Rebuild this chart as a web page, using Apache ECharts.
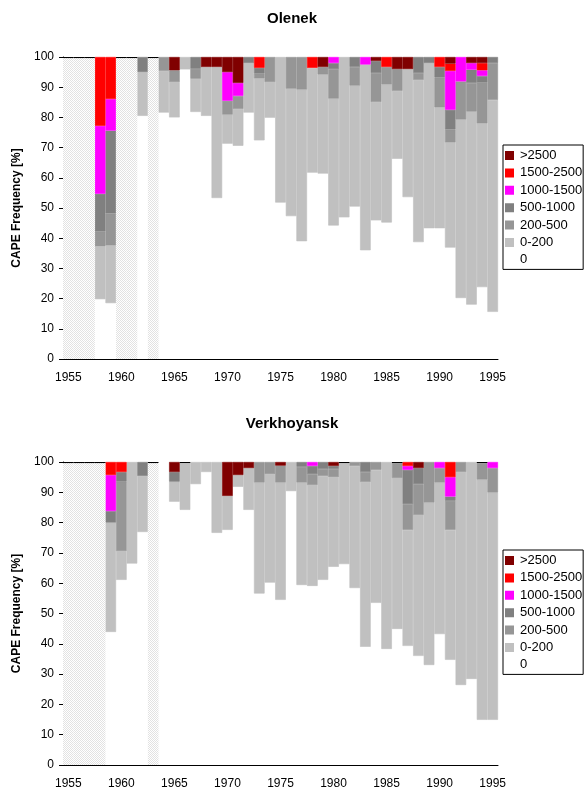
<!DOCTYPE html>
<html>
<head>
<meta charset="utf-8">
<script src="https://cdn.jsdelivr.net/npm/echarts@6/dist/echarts.min.js"></script>
<style>
html,body{margin:0;padding:0;background:#fff;}
#chart{width:584px;height:790px;}
</style>
</head>
<body>
<div id="chart"></div>
<script>
// ---------- DATA ----------
const years = ['1955','1956','1957','1958','1959','1960','1961','1962','1963','1964',
  '1965','1966','1967','1968','1969','1970','1971','1972','1973','1974',
  '1975','1976','1977','1978','1979','1980','1981','1982','1983','1984',
  '1985','1986','1987','1988','1989','1990','1991','1992','1993','1994','1995'];
const yTicks = [0,10,20,30,40,50,60,70,80,90,100];
const classNames = ['0','0-200','200-500','500-1000','1000-1500','1500-2500','>2500'];
const n = null;

// Olenek (percent of soundings per CAPE class)
const olenek_0     = [n,n,n,19.8,18.5,n,n,80.5,n,81.6,80,95.9,81.8,80.5,53.3,71.3,70.6,81.6,72.4,79.9,51.8,47.3,39,61.7,61.4,44.2,46.9,50.5,36,45.9,45.2,66.3,53.6,38.7,43.3,43.3,36.9,20.2,18,23.8,15.6];
const olenek_200   = [n,n,n,17.5,19.1,n,n,14.5,n,13.8,11.7,4.1,11,16.2,43.4,9.6,12.2,16.4,20.5,11.8,48.2,42.2,50.2,34.7,32.8,42,53.1,40,61.5,39.2,45.7,22.5,42.4,53.7,54.7,40,34.8,59.1,63.9,54.2,70.2];
const olenek_500   = [n,n,n,4.9,10.6,n,n,0,n,4.6,3.9,0,3.3,0,0,4.6,4.3,0,1.6,8.3,0,10.5,10.8,0,2.5,9.8,0,6.2,0,9.6,5.8,7.2,0,2.3,0,9.9,4.3,12.6,9.5,13.5,12.2];
const olenek_1000  = [n,n,n,12.5,27.4,n,n,5,n,0,0,0,3.9,0,0,0,0,2,1.9,0,0,0,0,0,0,2,0,3.3,0,4,0,0,0,5.3,2,3.5,6.5,0,4.4,2.2,2];
const olenek_1500  = [n,n,n,22.5,10.5,n,n,0,n,0,0,0,0,0,0,9.5,4.3,0,0,0,0,0,0,0,0,2,0,0,2.5,0,0,0,0,0,0,0,12.9,8.1,2.2,1.9,0];
const olenek_2500  = [n,n,n,22.8,13.9,n,n,0,n,0,0,0,0,0,0,0,0,0,3.6,0,0,0,0,3.6,0,0,0,0,0,0,3.3,0,0,0,0,3.3,2.4,0,0,2.4,0];
const olenek_gt    = [n,n,n,0,0,n,n,0,n,0,4.4,0,0,3.3,3.3,5,8.6,0,0,0,0,0,0,0,3.3,0,0,0,0,1.3,0,4,4,0,0,0,2.2,0,2,2,0];
const olenek_missing = ['1955','1956','1957','1960','1961','1963'];
const olenek_edge    = ['1955','1956','1957','1960','1961','1963'];

// Verkhoyansk
const verk_0     = [n,n,n,n,43.9,61.1,66.5,76.9,n,100,86.9,84.2,92.7,96.7,76.6,77.6,91.8,84.2,56.6,60.2,54.5,90.4,59.4,59.1,61.1,65.4,66.3,58.4,39,53.5,38.3,44.9,39.3,36,33,43.2,34.7,26.4,28.4,14.9,14.9];
const verk_200   = [n,n,n,n,36.1,9.5,33.5,18.5,n,0,6.6,15.8,7.3,3.3,23.4,11.2,3.9,13.8,36.6,35.8,38.7,9.6,33.8,33.3,34.3,29.6,33.7,40.3,54.4,43.9,61.7,49.8,38.3,46.5,53.6,50,42.9,70.3,71.6,79.3,75];
const verk_500   = [n,n,n,n,0,22.9,0,0,n,0,0,0,0,0,0,0,0,0,6.8,4,5.6,0,5.2,3.6,2.3,2.7,0,1.3,3.3,2.6,0,5.3,8.5,10.2,13.4,4.8,9.6,3.3,0,5.8,8.1];
const verk_1000  = [n,n,n,n,3.8,3.2,0,4.6,n,0,3.2,0,0,0,0,0,0,0,0,0,0,0,1.6,2.7,2.3,1,0,0,3.3,0,0,0,11.3,5.3,0,0,1.4,0,0,0,0];
const verk_1500  = [n,n,n,n,11.9,0,0,0,n,0,0,0,0,0,0,0,0,0,0,0,0,0,0,1.3,0,0,0,0,0,0,0,0,1.3,0,0,2,6.4,0,0,0,2];
const verk_2500  = [n,n,n,n,4.3,3.3,0,0,n,0,0,0,0,0,0,0,0,0,0,0,0,0,0,0,0,0,0,0,0,0,0,0,1.3,0,0,0,5,0,0,0,0];
const verk_gt    = [n,n,n,n,0,0,0,0,n,0,3.3,0,0,0,0,11.2,4.3,2,0,0,1.2,0,0,0,0,1.3,0,0,0,0,0,0,0,2,0,0,0,0,0,0,0];
const verk_missing = ['1955','1956','1957','1958','1963'];
const verk_edge    = ['1955','1956','1957','1958','1963','1966','1981','1986','1994'];

// ---------- STYLE ----------
const FONT = 'Liberation Sans, Arial, sans-serif';
const classColors = ['#FFFFFF','#C0C0C0','#969696','#808080','#FF00FF','#FF0000','#800000'];
const EDGE = 0.35;

function hatchCanvas(){
  const c = document.createElement('canvas');
  c.width = 4; c.height = 4;
  const g = c.getContext('2d');
  g.fillStyle = '#ffffff'; g.fillRect(0,0,4,4);
  g.fillStyle = '#e2e2e2';
  for (let i=0;i<4;i++){ g.fillRect(i, i%4, 1, 1); g.fillRect(i, (i+2)%4, 1, 1); }
  return c;
}
const hatch = hatchCanvas();

function buildSeries(ci, segs, missing, edges){
  const adj = segs.map(a => a.slice());
  const hatchData = years.map(y => missing.includes(y) ? 100 : null);
  const edgeData = years.map(() => null);
  years.forEach((y, i) => {
    if (!edges.includes(y)) return;
    edgeData[i] = EDGE;
    if (hatchData[i] != null) { hatchData[i] -= EDGE; return; }
    for (let k = adj.length-1; k >= 0; k--) {
      if (adj[k][i] > 0) { adj[k][i] = +(adj[k][i] - EDGE).toFixed(3); break; }
    }
  });
  const out = adj.map((d, k) => ({
    type:'bar', name: classNames[k], xAxisIndex: ci, yAxisIndex: ci, stack: 's'+ci,
    data: d.map(v => (v != null && v > 0) ? v : '-'), barCategoryGap:'0%',
    itemStyle: k === 0 ? {color: classColors[k]} : {color: classColors[k], borderColor: classColors[k], borderWidth: 0.6},
    silent:true
  }));
  out.push({type:'bar', name:'missing', xAxisIndex:ci, yAxisIndex:ci, stack:'s'+ci,
    data: hatchData.map(v => v == null ? '-' : v), barCategoryGap:'0%',
    itemStyle:{color:{image: hatch, repeat:'repeat'}}, silent:true});
  out.push({type:'bar', name:'edge', xAxisIndex:ci, yAxisIndex:ci, stack:'s'+ci,
    data: edgeData.map(v => v == null ? '-' : v), barCategoryGap:'0%', itemStyle:{color:'#000'}, silent:true});
  return out;
}

const grids = [
  {left:63, top:57, width:435, height:302},
  {left:63, top:462, width:435, height:303}
];

function xAxis(ci){
  return {type:'category', gridIndex:ci, data:years, boundaryGap:true,
    axisLine:{lineStyle:{color:'#000', width:1}},
    axisTick:{interval:0, length:4, lineStyle:{color:'#000'}},
    axisLabel:{interval:4, fontFamily:FONT, fontSize:12, color:'#000', margin:13}};
}
function yAxis(ci){
  return {type:'value', gridIndex:ci, min:yTicks[0], max:yTicks[yTicks.length-1], interval:10,
    name:'CAPE Frequency [%]', nameLocation:'middle', nameGap:33,
    nameTextStyle:{fontFamily:FONT, fontSize:12, fontWeight:'bold', color:'#000'},
    axisLine:{show:true, lineStyle:{color:'#000', width:1}},
    axisTick:{show:true, length:4, lineStyle:{color:'#000'}},
    splitLine:{show:false},
    axisLabel:{fontFamily:FONT, fontSize:12, color:'#000', margin:9}};
}
function legend(top){
  return {orient:'vertical', left:503, top:top, data:classNames.slice().reverse(),
    itemWidth:7, itemHeight:7, itemGap:4.4, icon:'rect',
    borderColor:'#000', borderWidth:1, padding:[4,1,3,2],
    textStyle:{fontFamily:FONT, fontSize:13, color:'#000', lineHeight:13, padding:[0,0,0,2]},
    selectedMode:false};
}

const chart = echarts.init(document.getElementById('chart'), null, {renderer:'canvas'});
chart.setOption({
  animation:false,
  backgroundColor:'#fff',
  title:[
    {text:'Olenek', left:'center', top:6, textStyle:{fontFamily:FONT, fontSize:15, fontWeight:'bold', color:'#000'}},
    {text:'Verkhoyansk', left:'center', top:411, textStyle:{fontFamily:FONT, fontSize:15, fontWeight:'bold', color:'#000'}}
  ],
  legend:[legend(145), legend(550)],
  grid: grids,
  xAxis:[xAxis(0), xAxis(1)],
  yAxis:[yAxis(0), yAxis(1)],
  series: [].concat(
    buildSeries(0, [olenek_0, olenek_200, olenek_500, olenek_1000, olenek_1500, olenek_2500, olenek_gt], olenek_missing, olenek_edge),
    buildSeries(1, [verk_0, verk_200, verk_500, verk_1000, verk_1500, verk_2500, verk_gt], verk_missing, verk_edge)
  )
});
</script>
</body>
</html>
